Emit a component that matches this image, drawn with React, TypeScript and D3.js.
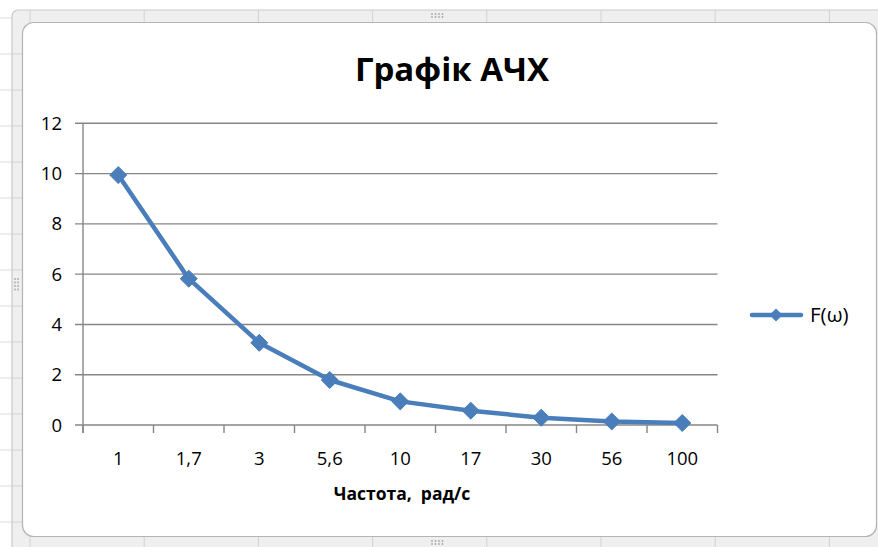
import React from "react";
import * as d3 from "d3";

// Frequency response data
const frequencies = ["1", "1,7", "3", "5,6", "10", "17", "30", "56", "100"];
const amplitude = [9.94, 5.82, 3.27, 1.79, 0.94, 0.57, 0.29, 0.14, 0.08];
const yTicks = [0, 2, 4, 6, 8, 10, 12];
const seriesName = "F(ω)";
const titleText = "Графік АЧХ";
const xAxisTitle = "Частота,  рад/с";

const W = 878;
const H = 547;
const FONT = "'Open Sans', 'Noto Sans', sans-serif";
const BLUE = "#4a7ebb";
const AXIS = "#868686";

export default function App() {
  const x = d3.scaleBand<string>().domain(frequencies).range([83, 717.5]).padding(0);
  const y = d3.scaleLinear().domain([0, 12]).range([425, 123.3]);

  const pts = frequencies.map((f, i) => [x(f)! + x.bandwidth() / 2, y(amplitude[i])] as [number, number]);
  const line = d3.line<[number, number]>()(pts) || "";
  const diamond = d3.symbol().type(d3.symbolDiamond2).size(185)() || "";

  // sheet gridlines behind the chart frame
  const sheetRows = d3.range(-4, 16).map((k) => 414 + 36 * (k - 11));
  const sheetCols = d3.range(0, 8).map((k) => 30 + 114.2 * k);

  const [x0, x1] = x.range();
  const boundaries = frequencies.map((f) => x(f)!).concat([x1]);

  return (
    <svg width={W} height={H} style={{ position: "absolute", left: 0, top: 0, background: "#fff" }}>
      {sheetRows.map((r) => (
        <line key={"r" + r} x1={0} x2={12} y1={r} y2={r} stroke="#d9dbdd" strokeWidth={1} />
      ))}
      {/* selection frame */}
      <rect x={12} y={10} width={890} height={548} rx={6} fill="#efefef" stroke="#c9c9c9" strokeWidth={1.2} />
      {sheetCols.map((c) => (
        <g key={"c" + c}>
          <line x1={c} x2={c} y1={10} y2={22} stroke="#d2d2d2" />
          <line x1={c} x2={c} y1={537} y2={547} stroke="#d2d2d2" />
        </g>
      ))}
      {sheetRows.map((r) =>
        r > 22 && r < 537 ? <line key={"lr" + r} x1={12} x2={22} y1={r} y2={r} stroke="#d2d2d2" /> : null
      )}
      {/* handles */}
      {[0, 1, 2, 3].map((k) => (
        <g key={"h" + k} fill="#a8a8a8">
          <circle cx={432 + k * 3.5} cy={14} r={0.9} />
          <circle cx={432 + k * 3.5} cy={17} r={0.9} />
          <circle cx={432 + k * 3.5} cy={541} r={0.9} />
          <circle cx={432 + k * 3.5} cy={544} r={0.9} />
          <circle cx={15} cy={279 + k * 3.5} r={0.9} />
          <circle cx={18} cy={279 + k * 3.5} r={0.9} />
        </g>
      ))}
      <rect x={22.5} y={22.5} width={854} height={514} rx={11} fill="#fff" stroke="#b4b4b4" strokeWidth={1.2} />

      {/* title */}
      <text x={452} y={81} textAnchor="middle" fontFamily={FONT} fontWeight={700} fontSize={33} fill="#000">
        {titleText}
      </text>

      {/* horizontal gridlines and y ticks */}
      {yTicks.map((t) => (
        <g key={"y" + t}>
          <line x1={x0 - 8} x2={x1} y1={y(t)} y2={y(t)} stroke={AXIS} strokeWidth={1.4} />
          <text x={62} y={y(t) + 6.5} textAnchor="end" fontFamily={FONT} fontSize={18.5} fill="#000">
            {t}
          </text>
        </g>
      ))}
      {/* axes */}
      <line x1={x0} x2={x0} y1={y(12)} y2={y(0) + 8} stroke={AXIS} strokeWidth={1.4} />
      {boundaries.map((b, i) => (
        <line key={"xt" + i} x1={b} x2={b} y1={y(0)} y2={y(0) + 8} stroke={AXIS} strokeWidth={1.4} />
      ))}
      {frequencies.map((f) => (
        <text key={"xl" + f} x={x(f)! + x.bandwidth() / 2} y={465} textAnchor="middle" fontFamily={FONT} fontSize={18.5} fill="#000">
          {f}
        </text>
      ))}
      <text x={402} y={500} textAnchor="middle" fontFamily={FONT} fontWeight={700} fontSize={17.5} fill="#000" style={{ whiteSpace: "pre" }}>
        {xAxisTitle}
      </text>

      {/* series */}
      <path d={line} fill="none" stroke={BLUE} strokeWidth={4.5} strokeLinejoin="round" />
      {pts.map((p, i) => (
        <path key={"m" + i} d={diamond} transform={`translate(${p[0]},${p[1]})`} fill={BLUE} stroke={BLUE} strokeWidth={1} />
      ))}

      {/* legend */}
      <line x1={752} x2={801} y1={315} y2={315} stroke={BLUE} strokeWidth={4.5} strokeLinecap="round" />
      <path d={d3.symbol().type(d3.symbolDiamond2).size(110)() || ""} transform="translate(776,315)" fill={BLUE} />
      <text x={810} y={322} fontFamily={FONT} fontSize={20.5} fill="#000">
        {seriesName}
      </text>
    </svg>
  );
}
